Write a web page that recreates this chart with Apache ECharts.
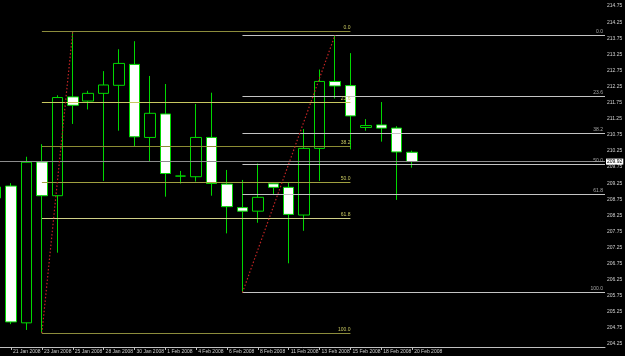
<!DOCTYPE html>
<html>
<head>
<meta charset="utf-8">
<script src="https://cdn.jsdelivr.net/npm/echarts@6/dist/echarts.min.js"></script>
<style>html,body{margin:0;padding:0;background:#000;}#c{width:625px;height:356px;}</style>
</head>
<body>
<div id="c"></div>
<script>
// Categories (daily candles, incl. Sunday sessions)
const dates = ['20 Jan 2008','21 Jan 2008','22 Jan 2008','23 Jan 2008','24 Jan 2008','25 Jan 2008','27 Jan 2008','28 Jan 2008','29 Jan 2008','30 Jan 2008','31 Jan 2008','1 Feb 2008','3 Feb 2008','4 Feb 2008','5 Feb 2008','6 Feb 2008','7 Feb 2008','8 Feb 2008','10 Feb 2008','11 Feb 2008','12 Feb 2008','13 Feb 2008','14 Feb 2008','15 Feb 2008','17 Feb 2008','18 Feb 2008','19 Feb 2008','20 Feb 2008'];
const futureSlots = ['21 Feb 2008','22 Feb 2008','24 Feb 2008','25 Feb 2008','26 Feb 2008','27 Feb 2008','28 Feb 2008','29 Feb 2008','2 Mar 2008','3 Mar 2008','4 Mar 2008','5 Mar 2008'];
const labelDates = ['21 Jan 2008','23 Jan 2008','25 Jan 2008','28 Jan 2008','30 Jan 2008','1 Feb 2008','4 Feb 2008','6 Feb 2008','8 Feb 2008','11 Feb 2008','13 Feb 2008','15 Feb 2008','18 Feb 2008','20 Feb 2008'];
// OHLC values
const opens  = [208.79,209.16,204.91,209.91,208.86,211.93,211.80,212.04,212.29,212.94,210.67,211.40,209.47,209.45,210.67,209.22,208.49,208.38,209.23,209.12,208.26,210.33,212.41,212.28,210.98,211.06,210.96,210.21];
const closes = [209.13,204.94,209.90,208.86,211.91,211.67,212.04,212.30,212.97,210.69,211.42,209.55,209.47,210.67,209.24,208.52,208.38,208.81,209.12,208.28,210.33,212.41,212.27,211.34,211.04,210.96,210.22,209.92];
const lows   = [208.60,204.87,204.69,204.59,207.09,211.09,211.54,209.32,210.88,210.38,209.91,208.83,209.24,209.30,208.86,207.69,205.85,208.02,208.88,206.76,207.77,209.32,211.88,210.30,210.88,210.54,208.73,209.73];
const highs  = [209.30,209.25,210.07,210.46,211.98,213.97,212.12,212.73,213.41,213.66,212.58,212.33,209.63,211.71,212.06,209.66,209.35,209.86,209.27,209.28,210.93,212.78,213.85,213.29,211.24,211.77,211.02,210.26];
// Price axis tick labels
const priceTicks = [204.25,204.75,205.25,205.75,206.25,206.75,207.25,207.75,208.25,208.75,209.25,209.75,210.25,210.75,211.25,211.75,212.25,212.75,213.25,213.75,214.25,214.75];
// Fibonacci retracements
const fibLevels = ['0.0','23.6','38.2','50.0','61.8','100.0'];
const fibAPrices = [213.97,211.76,210.39,209.28,208.17,204.59];
const fibBPrices = [213.85,211.96,210.79,209.85,208.90,205.85];
const fibAColors = ['#8c8c3c','#c8c860','#8c8c34','#a0a040','#d0d088','#8c8c3c'];
const fibASpan = [3, 23];
const fibBSpan = [16, 39.5];
const bidPrice = 209.92;

const cats = dates.concat(futureSlots);
const candleData = opens.map((o,i)=>[o, closes[i], lows[i], highs[i]]);
const labelIdx = new Set(labelDates.map(d=>cats.indexOf(d)));
const FONT = 'Liberation Sans';

const fibAMarks = fibAPrices.map((p,i)=>[
  {coord:[fibASpan[0], p], lineStyle:{color:fibAColors[i]}, label:{formatter:fibLevels[i]}},
  {coord:[fibASpan[1], p]}
]);
const fibBMarks = fibBPrices.map((p,i)=>[
  {coord:[fibBSpan[0], p], label:{formatter:fibLevels[i]}},
  {coord:[fibBSpan[1], p]}
]);
const trendStyle = {color:'#c02424', type:[1.5,2], width:1.2};

const chart = echarts.init(document.getElementById('c'));
chart.setOption({
  animation:false,
  backgroundColor:'#000',
  grid:{left:-12.1, right:20, top:0, bottom:9, containLabel:false, outerBoundsMode:'none'},
  xAxis:[{
    type:'category', data:cats, boundaryGap:true,
    axisLine:{lineStyle:{color:'#c0c0c0', width:1}},
    axisTick:{show:true, length:3, alignWithLabel:true, interval:(i)=>labelIdx.has(i), lineStyle:{color:'#c0c0c0'}},
    axisLabel:{interval:(i)=>labelIdx.has(i), showMinLabel:true, hideOverlap:false, color:'#d0d0d0', fontSize:5, fontFamily:FONT, align:'left', margin:2, padding:[0,0,0,2]},
    splitLine:{show:false}
  },{
    type:'value', min:-0.5, max:39.5, show:false
  }],
  yAxis:[{
    type:'value', position:'right', min:204.16, max:214.94, scale:true,
    axisLine:{show:true, lineStyle:{color:'#c0c0c0'}},
    axisTick:{show:true, length:2, customValues:priceTicks, lineStyle:{color:'#c0c0c0'}},
    axisLabel:{customValues:priceTicks, color:'#d0d0d0', fontSize:5, fontFamily:FONT, margin:2, formatter:(v)=>v.toFixed(2)},
    splitLine:{show:false}
  }],
  series:[{
    type:'candlestick', xAxisIndex:0, yAxisIndex:0, data:candleData, barWidth:11,
    itemStyle:{color:'#000000', color0:'#ffffff', borderColor:'#00d800', borderColor0:'#00d800', borderWidth:1},
    markLine:{
      silent:true, symbol:'none', animation:false,
      data:[{yAxis:bidPrice, lineStyle:{color:'#8c8c8c', width:1, type:'solid'},
        label:{show:true, position:'end', distance:1, formatter:bidPrice.toFixed(2), color:'#000', backgroundColor:'#ffffff', fontSize:5, fontFamily:FONT, padding:[1,1,0,1]}}]
    }
  },{
    type:'line', xAxisIndex:1, yAxisIndex:0, data:[], symbol:'none',
    markLine:{
      silent:true, symbol:'none', animation:false,
      lineStyle:{width:1, type:'solid'},
      label:{show:true, position:'insideEndTop', distance:[0,1], color:'#c8c860', fontSize:5, fontFamily:FONT},
      data: fibAMarks.concat([[
        {coord:[fibASpan[0], fibAPrices[5]], lineStyle:trendStyle, label:{show:false}},
        {coord:[5, fibAPrices[0]]}
      ]])
    }
  },{
    type:'line', xAxisIndex:1, yAxisIndex:0, data:[], symbol:'none',
    markLine:{
      silent:true, symbol:'none', animation:false,
      lineStyle:{width:1, type:'solid', color:'#c4c4c4'},
      label:{show:true, position:'insideEndTop', distance:[2,1], color:'#a8a8a8', fontSize:5, fontFamily:FONT},
      data: fibBMarks.concat([[
        {coord:[fibBSpan[0], fibBPrices[5]], lineStyle:trendStyle, label:{show:false}},
        {coord:[22, fibBPrices[0]]}
      ]])
    }
  }]
});
</script>
</body>
</html>
